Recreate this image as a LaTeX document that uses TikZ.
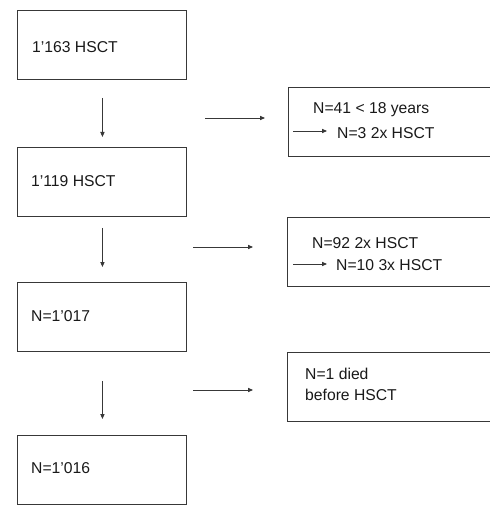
\documentclass[tikz,border=0pt]{standalone}
\usepackage{fontspec}
\setmainfont{Liberation Sans}
\usetikzlibrary{arrows.meta,calc}
\begin{document}
\begin{tikzpicture}[x=1pt,y=-1pt,
  line/.style={draw=black!78,line width=0.9pt},
  arr/.style={line,-{Triangle[length=5pt,width=4.2pt]}},
  lbox/.style={line,rectangle,minimum width=169pt,minimum height=69pt,inner sep=0pt,anchor=north west},
  rbox/.style={rectangle,draw=none,minimum width=203pt,minimum height=69pt,inner sep=0pt,anchor=north west},
  txt/.style={anchor=base west,inner sep=0pt,font=\fontsize{15.7}{18}\selectfont,text=black!90}]
\useasboundingbox (0,0) rectangle (489,505);
% left boxes
\node[lbox] (b1) at (17,10) {};
\node[lbox] (b2) at (17,147) {};
\node[lbox] (b3) at (17,282) {};
\node[lbox] (b4) at (17,435) {};
\node[txt] (t1) at (32,53) {1’163 HSCT};
\node[txt] (t2) at (31,186) {1’119 HSCT};
\node[txt] (t3) at (31,321) {N=1’017};
\node[txt] (t4) at (31,473) {N=1’016};
% vertical arrows
\draw[arr] ($(b1.south)+(0.5,18)$) -- ($(b2.north)+(0.5,-10)$);
\draw[arr] ($(b2.south)+(0.5,11)$) -- ($(b3.north)+(0.5,-15)$);
\draw[arr] ($(b3.south)+(0.5,29)$) -- ($(b4.north)+(0.5,-16)$);
% right boxes (open on the right)
\node[rbox] (r1) at (288,87) {};
\node[rbox] (r2) at (287,217) {};
\node[rbox] (r3) at (287,352) {};
\foreach \r in {r1,r2,r3}
  \draw[line] (\r.north east) -- (\r.north west) -- (\r.south west) -- (\r.south east);
% horizontal arrows
\coordinate (h1s) at (205,118); \coordinate (h1e) at (265,118);
\coordinate (h2s) at (193,247); \coordinate (h2e) at (253,247);
\coordinate (h3s) at (193,390); \coordinate (h3e) at (253,390);
\draw[arr] (h1s) -- (h1e);
\draw[arr] (h2s) -- (h2e);
\draw[arr] (h3s) -- (h3e);
% right box texts
\node[txt] (s1) at (313,114) {N=41 < 18 years};
\node[txt] (s2) at (337,139) {N=3 2x HSCT};
\node[txt] (s3) at (312,248) {N=92 2x HSCT};
\node[txt] (s4) at (336,270) {N=10 3x HSCT};
\node[txt] (s5) at (305,379) {N=1 died};
\node[txt] (s6) at (305,400) {before HSCT};
% inner arrows
\coordinate (i1) at (293,131);
\coordinate (i2) at (293,264);
\draw[arr,shorten >=10pt] (i1) -- (i1 -| s2.west);
\draw[arr,shorten >=9pt] (i2) -- (i2 -| s4.west);
\end{tikzpicture}
\end{document}
